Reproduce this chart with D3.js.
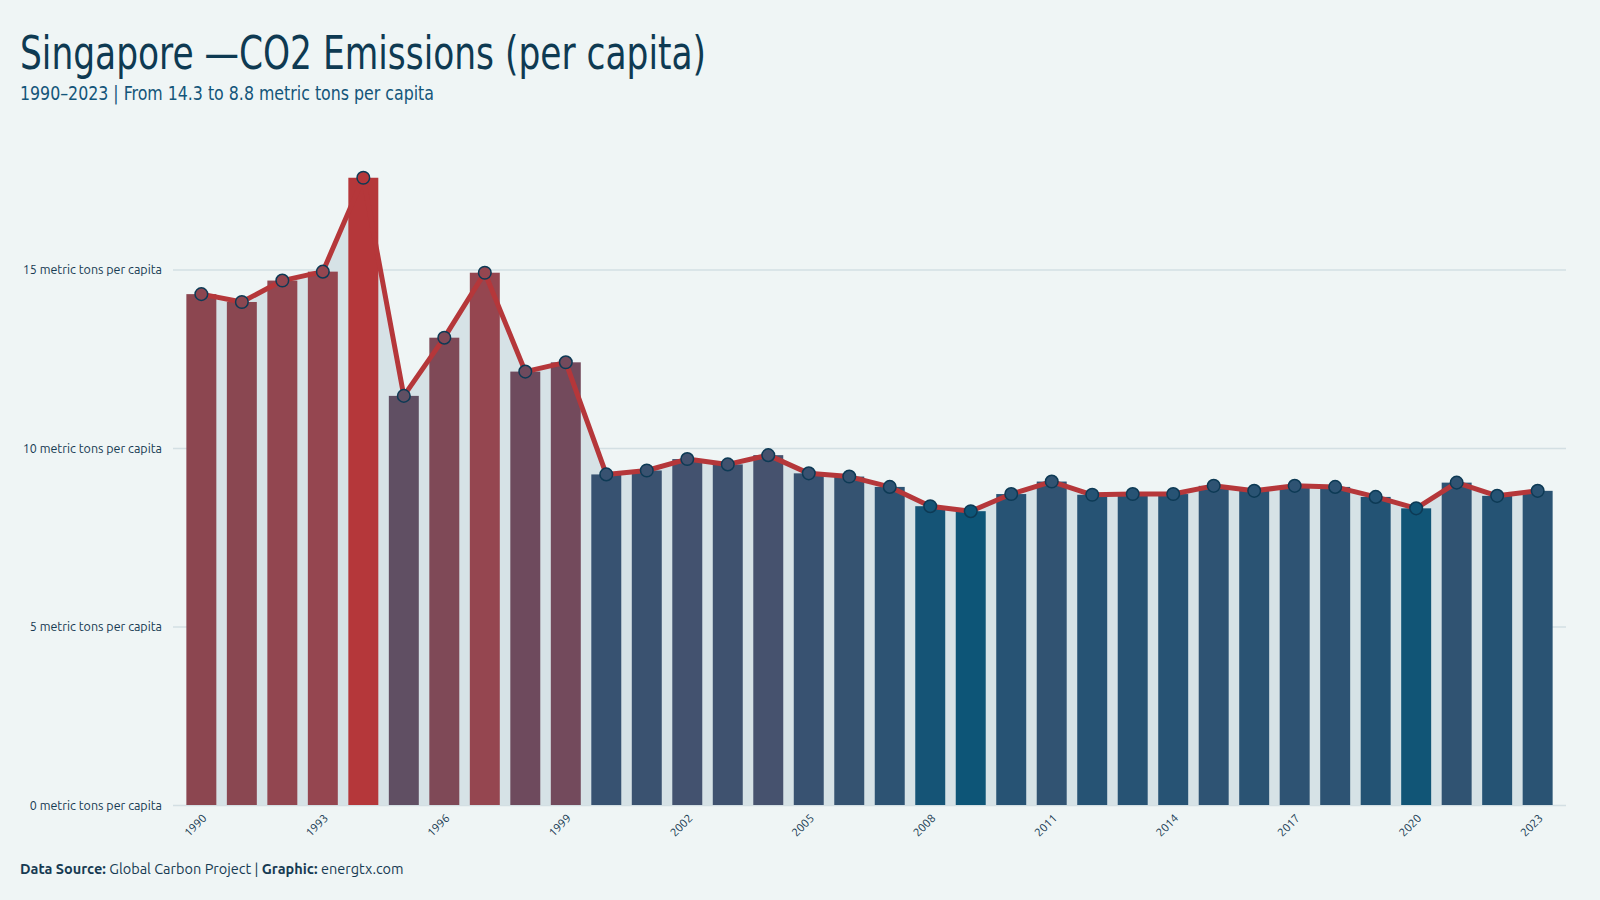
<!DOCTYPE html>
<html>
<head>
<meta charset="utf-8">
<script src="https://cdn.jsdelivr.net/npm/d3@7"></script>
<style>
  body { margin: 0; background: #eff5f5; }
  svg { display: block; }
</style>
</head>
<body>
<svg id="graphic" width="1600" height="900"></svg>
<script>
const years = d3.range(1990, 2024);
const co2 = [14.31, 14.09, 14.69, 14.94, 17.57, 11.46, 13.09, 14.91, 12.14, 12.4,
  9.26, 9.37, 9.69, 9.54, 9.8, 9.29, 9.2, 8.91, 8.37, 8.23,
  8.71, 9.06, 8.69, 8.71, 8.71, 8.94, 8.8, 8.94, 8.91, 8.63,
  8.31, 9.03, 8.66, 8.8];
const yTicks = [0, 5, 10, 15];
const xTicks = [1990, 1993, 1996, 1999, 2002, 2005, 2008, 2011, 2014, 2017, 2020, 2023];

const dta = years.map((y, i) => ({year: y, value: co2[i]}));

const svg = d3.select('#graphic');
const margins = {left: 173, right: 34, top: 160, bottom: 95};
const W = 1600, H = 900;
const base = H - margins.bottom;

const xScale = d3.scaleBand()
    .domain(years)
    .range([margins.left, W - margins.right])
    .paddingInner(0.26)
    .paddingOuter(0.33);

const yScale = d3.scaleLinear()
    .domain([0, 18])
    .range([base, base - 18 * 35.7]);

// colour by value, blue (low) to red (high)
const color = d3.scaleLinear()
    .domain([8.2, 8.7, 9.8, 11.4, 12.2, 13.1, 14.3, 15, 17.6])
    .range(['#0b5577', '#275374', '#46526e', '#5f4f63', '#6f4a5d', '#7f4957', '#8c4650', '#964650', '#b5373a'])
    .clamp(true);

// grid
svg.append('g')
    .attr('transform', `translate(${margins.left},0)`)
    .call(d3.axisLeft(yScale).tickValues(yTicks).tickSize(-(W - margins.right - margins.left)).tickFormat(''))
    .call((g) => g.select('.domain').remove())
    .call((g) => g.selectAll('line').attr('stroke', '#d3dfe3').attr('stroke-width', 1.5));

// y labels
svg.append('g')
    .attr('transform', `translate(${margins.left},0)`)
    .call(d3.axisLeft(yScale).tickValues(yTicks).tickSize(0).tickPadding(11)
        .tickFormat((d) => `${d} metric tons per capita`))
    .call((g) => g.select('.domain').remove())
    .call((g) => g.selectAll('text')
        .attr('font-family', 'Ubuntu, "Noto Sans", sans-serif')
        .attr('font-size', 12.5)
        .attr('fill', '#163a52'));

// area under the line
const cx = (d) => xScale(d.year) + xScale.bandwidth() / 2;
svg.append('path')
    .datum(dta)
    .attr('fill', '#d6e2e6')
    .attr('d', d3.area().x(cx).y0(base).y1((d) => yScale(d.value)));

// bars
svg.selectAll('.data_point')
    .data(dta)
    .enter()
    .append('rect')
    .classed('data_point', true)
    .attr('x', (d) => xScale(d.year))
    .attr('y', (d) => yScale(d.value))
    .attr('width', xScale.bandwidth())
    .attr('height', (d) => base - yScale(d.value))
    .attr('fill', (d) => color(d.value));

// line
svg.append('path')
    .datum(dta)
    .attr('fill', 'none')
    .attr('stroke', '#b5373a')
    .attr('stroke-width', 5)
    .attr('stroke-linejoin', 'round')
    .attr('d', d3.line().x(cx).y((d) => yScale(d.value)));

svg.selectAll('.dot')
    .data(dta)
    .enter()
    .append('circle')
    .classed('dot', true)
    .attr('cx', cx)
    .attr('cy', (d) => yScale(d.value))
    .attr('r', 6.3)
    .attr('fill', (d) => color(d.value))
    .attr('stroke', '#0d3a55')
    .attr('stroke-width', 1.5);

// x axis
svg.append('g')
    .attr('transform', `translate(0,${base})`)
    .call(d3.axisBottom(xScale).tickValues(xTicks).tickSize(0).tickPadding(0))
    .call((g) => g.select('.domain').remove())
    .call((g) => g.selectAll('text')
        .attr('font-family', 'Ubuntu, "Noto Sans", sans-serif')
        .attr('font-size', 11.5)
        .attr('fill', '#163a52')
        .attr('text-anchor', 'end')
        .attr('dy', 0)
        .attr('transform', 'translate(6,14) rotate(-45)'));

// titles
svg.append('text')
    .attr('x', 20)
    .attr('y', 69)
    .attr('font-family', '"Liberation Sans Narrow", "DejaVu Sans Condensed", sans-serif')
    .attr('font-size', 46)
    .attr('fill', '#0e3a52')
    .attr('textLength', 686)
    .attr('lengthAdjust', 'spacingAndGlyphs')
    .text('Singapore —CO2 Emissions (per capita)');

svg.append('text')
    .attr('x', 20)
    .attr('y', 100)
    .attr('font-family', '"Liberation Sans Narrow", "DejaVu Sans Condensed", sans-serif')
    .attr('font-size', 20)
    .attr('fill', '#14557a')
    .attr('textLength', 414)
    .attr('lengthAdjust', 'spacingAndGlyphs')
    .text('1990–2023 | From 14.3 to 8.8 metric tons per capita');

const foot = svg.append('text')
    .attr('x', 20)
    .attr('y', 874)
    .attr('font-family', 'Ubuntu, "Noto Sans", sans-serif')
    .attr('font-size', 14.5)
    .attr('fill', '#163a52');
foot.append('tspan').attr('font-weight', 'bold').text('Data Source: ');
foot.append('tspan').text('Global Carbon Project | ');
foot.append('tspan').attr('font-weight', 'bold').text('Graphic: ');
foot.append('tspan').text('energtx.com');
</script>
</body>
</html>
